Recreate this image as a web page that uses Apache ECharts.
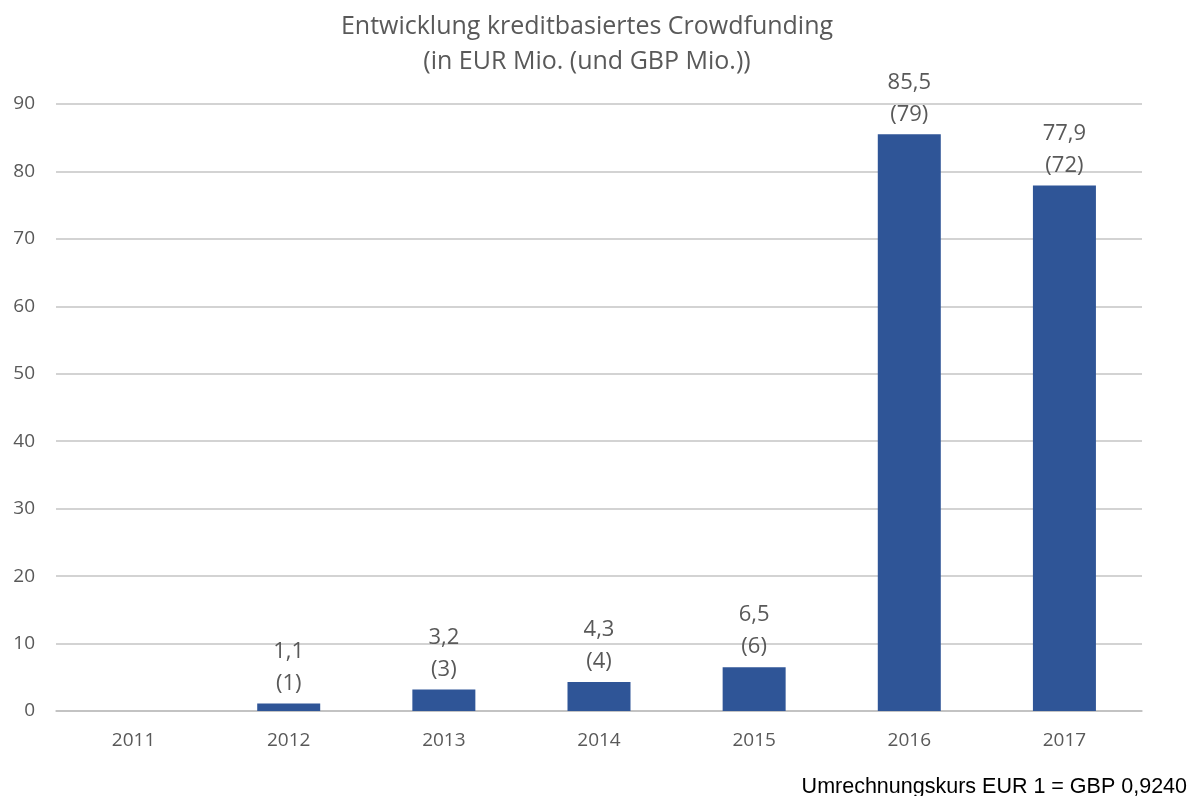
<!DOCTYPE html>
<html><head><meta charset="utf-8">
<script src="https://cdn.jsdelivr.net/npm/echarts@6/dist/echarts.min.js"></script>
<style>html,body{margin:0;padding:0;background:#fff}#c{width:1195px;height:796px}</style>
</head><body><div id="c"></div>
<script>
const categories = ['2011','2012','2013','2014','2015','2016','2017'];
const eurValues = [0, 1.1, 3.2, 4.3, 6.5, 85.5, 77.9];
const gbpValues = [0, 1, 3, 4, 6, 79, 72];
const yTicks = [0,10,20,30,40,50,60,70,80,90];

const chart = echarts.init(document.getElementById('c'));
const font = '"Open Sans", "Noto Sans", sans-serif';
chart.setOption({
  animation: false,
  backgroundColor: '#fff',
  title: [{
    text: 'Entwicklung kreditbasiertes Crowdfunding\n(in EUR Mio. (und GBP Mio.))',
    left: 582, top: 4, textAlign: 'center',
    textStyle: {fontFamily: font, fontSize: 25, fontWeight: 'normal', color: '#595959', lineHeight: 35}
  }, {
    text: 'Umrechnungskurs EUR 1 = GBP 0,9240',
    right: 3, top: 771,
    textStyle: {fontFamily: '"Liberation Sans", Arial, sans-serif', fontSize: 21.5, fontWeight: 'normal', color: '#000'}
  }],
  grid: {left: 56, right: 53, top: 104, bottom: 85},
  xAxis: {
    type: 'category', data: categories,
    axisLine: {show: true, lineStyle: {color: '#bfbfbf', width: 1.5}},
    axisTick: {show: false},
    axisLabel: {fontFamily: font, fontSize: 19, color: '#595959', margin: 20}
  },
  yAxis: {
    type: 'value', min: yTicks[0], max: yTicks[yTicks.length-1], interval: 10,
    axisLine: {show: false}, axisTick: {show: false},
    axisLabel: {fontFamily: font, fontSize: 19, color: '#595959', margin: 21},
    splitLine: {lineStyle: {color: '#c4c4c4', width: 1.5}}
  },
  series: [{
    type: 'bar', barWidth: 63,
    data: eurValues.map((v,i)=>({value: v, gbp: gbpValues[i]})),
    itemStyle: {color: '#2F5597'},
    label: {
      show: true, position: 'top', distance: 4,
      fontFamily: font, fontSize: 22, color: '#595959', lineHeight: 32,
      formatter: p => p.value === 0 ? '' : String(p.value).replace('.', ',') + '\n(' + p.data.gbp + ')'
    }
  }]
});
</script></body></html>
